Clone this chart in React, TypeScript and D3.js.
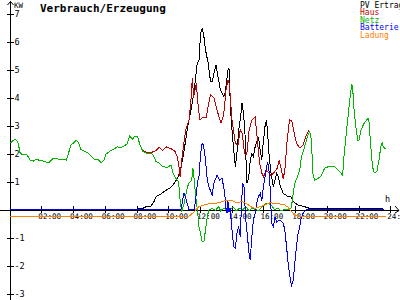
import React from 'react';
import * as d3 from 'd3';

const W = 400;
const H = 300;

// ---- data: [hour, kW] ----
const nightLoad: [number, number][] = [
  [0, 2.36], [0.2, 2.45], [0.36, 2.51], [0.52, 2.42], [0.67, 2.0], [0.875, 1.95], [1.08, 1.97],
  [1.29, 1.77], [1.5, 1.73], [1.71, 1.8], [1.92, 1.74], [2.13, 1.73], [2.4, 1.67], [2.54, 1.7],
  [2.75, 1.83], [2.96, 1.82], [3.17, 1.79], [3.38, 1.79], [3.58, 1.76], [3.69, 1.95], [3.85, 2.3],
  [4.0, 2.36], [4.2, 2.48], [4.35, 2.4], [4.48, 2.15], [4.73, 2.07], [4.94, 2.03], [5.15, 1.91],
  [5.35, 1.79], [5.56, 1.79], [5.77, 1.67], [5.94, 1.76], [6.08, 1.98], [6.29, 2.07], [6.56, 2.15],
  [6.77, 2.24], [7.02, 2.2], [7.23, 2.28], [7.4, 2.33], [7.56, 2.62], [7.77, 2.5], [7.85, 2.6],
  [8.08, 2.6], [8.19, 2.36],
];

const hausDay: [number, number][] = [
  [8.35, 2.12], [8.6, 2.05], [8.92, 2.03], [9.1, 2.08], [9.23, 2.1], [9.44, 2.22], [9.64, 2.1],
  [9.86, 2.24], [10.17, 2.17], [10.4, 2.1], [10.58, 1.89], [10.68, 1.5], [10.75, 1.17], [10.9, 2.0],
  [11.1, 2.84], [11.31, 3.2], [11.42, 3.8], [11.52, 4.7], [11.6, 4.0], [11.77, 4.5], [11.9, 3.6],
  [12.0, 3.2], [12.2, 3.3], [12.4, 3.3], [12.55, 3.8], [12.67, 4.09], [12.88, 4.0], [13.1, 3.5],
  [13.33, 3.08], [13.5, 3.4], [13.65, 4.3], [13.77, 4.62], [13.85, 4.5], [14.02, 3.2], [14.23, 2.37],
  [14.4, 2.3], [14.54, 2.84], [14.67, 2.72], [14.81, 2.0], [14.95, 1.95], [15.1, 2.84], [15.27, 3.2],
  [15.48, 3.3], [15.6, 2.6], [15.75, 1.7], [15.9, 1.3], [16.0, 1.17], [16.2, 1.4], [16.35, 1.3],
  [16.5, 1.2], [16.7, 1.35], [16.85, 1.45], [17.0, 1.75], [17.1, 1.5], [17.25, 1.1], [17.35, 1.4],
  [17.5, 2.5], [17.65, 3.2], [17.8, 3.15], [17.95, 2.7], [18.1, 2.35], [18.3, 2.2], [18.5, 2.3],
  [18.7, 2.66], [18.85, 2.8], [18.92, 2.78],
];

const netzDay: [number, number][] = [
  [8.4, 2.07], [8.7, 2.0], [9.02, 1.98], [9.23, 1.71], [9.44, 1.65], [9.64, 1.53], [9.96, 1.5],
  [10.17, 1.59], [10.31, 1.29], [10.48, 1.11], [10.65, 0.99], [10.75, 0.34], [10.85, -0.08],
  [11.0, 0.22], [11.21, 0.81], [11.31, 0.94], [11.48, 1.05], [11.56, 1.47], [11.64, 1.05],
  [11.73, 0.46], [11.85, -0.08], [11.94, -0.61], [12.14, -1.15], [12.25, -1.15], [12.35, -0.73],
  [12.46, -0.26], [12.56, -0.02], [12.77, 0.04], [12.98, -0.03], [13.19, 0.1], [13.3, -0.05],
  [13.5, 0.05], [13.7, -0.03], [13.9, 0.0], [14.1, 0.08], [14.3, -0.05], [14.5, 0.05], [14.7, 0.0],
  [14.9, 0.1], [15.1, -0.05], [15.3, 0.05], [15.5, 0.0], [15.7, -0.05], [15.9, 0.1], [16.1, 0.2],
  [16.3, 0.23], [16.5, 0.15], [16.7, 0.0], [16.9, 0.05], [17.1, -0.05], [17.3, 0.0], [17.5, 0.0],
  [17.7, 0.02], [17.77, 0.1], [17.88, 0.58], [17.98, 0.94], [18.15, 1.17], [18.29, 1.41],
  [18.4, 1.89], [18.6, 2.24], [18.77, 2.6], [18.92, 2.78], [19.03, 2.48], [19.08, 1.77],
  [19.12, 1.29], [19.23, 1.05], [19.44, 1.11], [19.65, 1.2], [19.85, 1.47], [20.17, 1.55],
  [20.48, 1.53], [20.69, 1.41], [20.85, 1.32], [21.0, 1.23], [21.06, 1.77], [21.14, 2.24],
  [21.27, 2.96], [21.42, 3.79], [21.56, 4.45], [21.62, 4.4], [21.73, 3.44], [21.83, 2.96],
  [21.94, 2.48], [22.02, 2.45], [22.15, 2.84], [22.35, 3.08], [22.6, 3.26], [22.65, 3.2],
  [22.77, 2.24], [22.88, 1.53], [22.98, 1.31], [23.15, 1.35], [23.29, 1.77], [23.4, 2.24],
  [23.5, 2.42], [23.55, 2.25], [23.71, 2.15],
];

const pvErtrag: [number, number][] = [
  [8.0, 0.04], [8.4, 0.04], [8.6, 0.1], [8.9, 0.12], [9.1, 0.28], [9.23, 0.46], [9.44, 0.52],
  [9.75, 0.64], [9.96, 0.72], [10.17, 0.79], [10.38, 0.94], [10.58, 1.11], [10.79, 1.45],
  [11.0, 2.1], [11.21, 2.9], [11.42, 3.5], [11.63, 4.2], [11.83, 5.22], [11.94, 5.34],
  [12.04, 6.29], [12.14, 6.47], [12.25, 6.17], [12.35, 5.7], [12.52, 5.22], [12.67, 4.56],
  [12.78, 4.56], [12.88, 4.86], [13.02, 5.16], [13.14, 4.74], [13.29, 4.27], [13.5, 4.03],
  [13.6, 4.2], [13.77, 4.98], [13.83, 5.04], [13.92, 3.67], [14.02, 2.84], [14.13, 2.13],
  [14.23, 1.53], [14.33, 2.0], [14.44, 2.84], [14.54, 3.2], [14.65, 3.79], [14.75, 3.44],
  [14.85, 2.6], [14.96, 0.94], [15.07, 1.1], [15.17, 1.77], [15.27, 2.0], [15.37, 1.9],
  [15.48, 2.24], [15.69, 2.6], [15.78, 2.2], [15.9, 1.77], [15.94, 2.12], [16.1, 2.96],
  [16.2, 3.2], [16.28, 2.6], [16.35, 2.0], [16.48, 1.29], [16.63, 0.81], [16.83, 1.29],
  [16.93, 1.2], [17.04, 0.88], [17.25, 0.58], [17.56, 0.46], [17.72, 0.46], [17.88, 0.28],
  [18.19, 0.16], [18.6, 0.1], [18.92, 0.04], [23.55, 0.04],
];

const batterie: [number, number][] = [
  [0, 0], [10.8, 0], [11.0, 0.6], [11.31, 0], [11.65, 0], [11.77, 0.58], [11.85, 1.0],
  [11.94, 1.17], [12.04, 2.0], [12.14, 2.36], [12.22, 2.3], [12.35, 1.77], [12.46, 1.05],
  [12.6, 0.76], [12.77, 0.52], [12.88, 0.94], [13.08, 1.23], [13.23, 1.05], [13.4, 1.11],
  [13.56, 0.58], [13.64, 0.04], [13.71, -0.14], [13.76, 0.35], [13.82, -0.1], [13.9, 0.05],
  [14.02, -0.73], [14.13, -1.33], [14.23, -1.39], [14.33, -0.85], [14.44, -0.61], [14.54, -0.97],
  [14.62, 0.2], [14.7, 0.95], [14.78, 0.8], [14.88, -0.3], [15.0, -1.0], [15.1, -1.6],
  [15.17, -1.8], [15.27, -0.97], [15.37, -0.37], [15.48, -0.13], [15.58, 0.22], [15.69, 0.46],
  [15.8, 0.58], [15.9, 0.3], [16.0, 0.81], [16.2, 1.53], [16.27, 1.71], [16.35, 1.41],
  [16.42, 0.81], [16.52, -0.49], [16.63, -0.61], [16.73, -0.26], [16.85, -0.45], [17.04, -0.37],
  [17.25, -0.49], [17.35, -0.73], [17.46, -1.33], [17.56, -1.92], [17.67, -2.4], [17.77, -2.7],
  [17.88, -2.52], [17.98, -1.92], [18.08, -1.33], [18.19, -0.85], [18.29, -0.61], [18.4, -0.26],
  [18.5, -0.14], [18.7, 0], [23.6, 0],
];

const ladung: [number, number][] = [
  [0, -0.24], [11.31, -0.24], [11.52, -0.14], [11.73, -0.02], [11.94, 0.1], [12.25, 0.16],
  [12.56, 0.2], [12.98, 0.22], [13.4, 0.28], [13.71, 0.34], [14.02, 0.32], [14.33, 0.24],
  [14.65, 0.28], [14.96, 0.2], [15.27, 0.08], [15.48, 0.04], [15.79, 0.1], [16.1, 0.16],
  [16.42, 0.24], [16.73, 0.22], [17.04, 0.2], [17.35, 0.16], [17.56, 0.08], [17.77, -0.08],
  [17.98, -0.2], [18.19, -0.24], [23.7, -0.24],
];

const haus: [number, number][] = [
  ...nightLoad, ...hausDay, ...netzDay.filter((d) => d[0] > 18.95),
];
const netz: [number, number][] = [...nightLoad, ...netzDay];

const hourTicks = [2, 4, 6, 8, 10, 12, 14, 16, 18, 20, 22, 24];
const kwTicks = [-3, -2, -1, 1, 2, 3, 4, 5, 6, 7];
const legendLabels = ['PV Ertrag', 'Haus', 'Netz', 'Batterie', 'Ladung'];
const seriesColors = ['#000000', '#c00000', '#00b400', '#0000ff', '#ff8000'];
const title = 'Verbrauch/Erzeugung';

const FONT = '"DejaVu Sans Mono", "Liberation Mono", monospace';

export default function App() {
  const x = d3.scaleLinear().domain([0, 24]).range([9.6, 390.3]);
  const y = d3.scaleLinear().domain([0, 7]).range([209.5, 13.5]);
  const line = d3
    .line<[number, number]>()
    .x((d) => x(d[0]))
    .y((d) => y(d[1]));

  const series = [pvErtrag, haus, netz, batterie, ladung];
  const y0 = Math.round(y(0)) + 0.5;
  const xAxisX = 10.5;

  return (
    <svg
      width={W}
      height={H}
      viewBox={`0 0 ${W} ${H}`}
      style={{ position: 'absolute', left: 0, top: 0, background: '#fff' }}
    >
      <rect x={0} y={0} width={W} height={H} fill="#fff" />
      {/* axes */}
      <g stroke="#000" strokeWidth={1} shapeRendering="crispEdges" fill="none">
        <line x1={xAxisX} y1={1} x2={xAxisX} y2={H} />
        <line x1={0} y1={y0} x2={399} y2={y0} />
        {kwTicks.map((t) => (
          <line key={'yt' + t} x1={7} x2={14} y1={Math.round(y(t)) + 0.5} y2={Math.round(y(t)) + 0.5} />
        ))}
        {hourTicks.map((h) => (
          <line key={'xt' + h} x1={Math.round(x(h)) + 0.5} x2={Math.round(x(h)) + 0.5} y1={206} y2={213} />
        ))}
      </g>
      <g stroke="#000" strokeWidth={1} fill="none">
        <polyline points={`7.5,5 ${xAxisX},1.5 13.5,5`} />
        <polyline points={`395,206 399,${y0} 395,213`} />
      </g>
      {/* y tick labels */}
      <g fontFamily={FONT} fontSize={8.5} fill="#000">
        {kwTicks.map((t) => (
          <text key={'yl' + t} x={14.5} y={y(t) + 3}>
            {t}
          </text>
        ))}
        <text x={14} y={7.5} fontSize={7.5}>KW</text>
        <text x={385} y={202}>h</text>
      </g>
      {/* x tick labels */}
      <g fontFamily={FONT} fontSize={7.6} fill="#000">
        {hourTicks.map((h) => (
          <text key={'xl' + h} x={x(h) - 3} y={218.5}>
            {String(h).padStart(2, '0') + ':00'}
          </text>
        ))}
      </g>
      {/* series */}
      <g fill="none" strokeWidth={1} shapeRendering="crispEdges">
        {series.map((s, i) => (
          <path key={'s' + i} d={line(s) || ''} stroke={seriesColors[i]} />
        ))}
      </g>
      {/* title */}
      <text x={40} y={11.5} fontFamily={FONT} fontSize={11} fontWeight="bold" fill="#000">
        {title}
      </text>
      {/* legend */}
      <g fontFamily={FONT} fontSize={8}>
        {legendLabels.map((l, i) => (
          <text key={'lg' + i} x={360} y={7.5 + i * 7.65} fill={seriesColors[i]}>
            {l}
          </text>
        ))}
      </g>
    </svg>
  );
}
